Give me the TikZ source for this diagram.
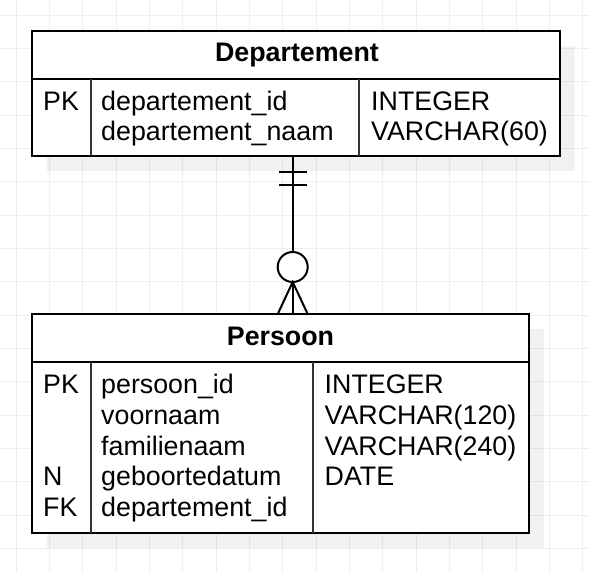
\documentclass[tikz,border=0pt]{standalone}
\usepackage{fontspec}
\setmainfont{Liberation Sans}
\usetikzlibrary{calc}
\begin{document}
\begin{tikzpicture}[x=1pt,y=-1pt,
		gridline/.style={gray!13,line width=0.8pt},
		entity/.style={draw,line width=2pt,fill=white,inner sep=0pt},
		shade/.style={fill=black,opacity=0.055},
		divider/.style={black!80,line width=1.6pt},
		title/.style={anchor=base,inner sep=0pt,font=\fontsize{26.8}{30}\selectfont\bfseries},
		field/.style={anchor=base west,inner sep=0pt,font=\fontsize{26.8}{30}\selectfont},
		rel/.style={line width=2pt}]
			\useasboundingbox (0,0) rectangle (589,572);
			\fill[white] (0,0) rectangle (589,572);
			% grid
			\foreach \x in {0,...,17}
				\draw[gridline] ({16+33.33*\x},0) -- ++(0,572);
			\foreach \y in {0,...,16}
				\draw[gridline] (0,{15+33.33*\y}) -- ++(589,0);
			% shadows
			\fill[shade] (47,46) rectangle (575,171);
			\fill[shade] (47,329) rectangle (544,548);
			% Departement
			\node[entity,minimum width=528pt,minimum height=125pt] (dep) at (296,93.5) {};
			\draw[line width=2pt] (32,79) -- (560,79);
			\draw[divider] (91,79) -- (91,156);
			\draw[divider] (359,79) -- (359,156);
			\node[title] (deptitle) at (297,62) {Departement};
			\node[field] (depkey) at (43,110.5) {PK};
			\foreach \txt [count=\i] in {departement\_id,departement\_naam}
				\node[field] (depfield\i) at ({101},{110.5+30*(\i-1)}) {\txt};
			\foreach \txt [count=\i] in {INTEGER,VARCHAR(60)}
				\node[field] (deptype\i) at ({371},{110.5+30*(\i-1)}) {\txt};
			% Persoon
			\node[entity,minimum width=497pt,minimum height=219pt] (pers) at (280.5,423.5) {};
			\draw[line width=2pt] (32,362) -- (529,362);
			\draw[divider] (91,362) -- (91,533);
			\draw[divider] (313,362) -- (313,533);
			\node[title] (perstitle) at (280.5,345) {Persoon};
			\foreach \txt [count=\i] in {PK,,,N,FK}
				\node[field] (perskey\i) at ({43},{393.5+30.8*(\i-1)}) {\txt};
			\foreach \txt [count=\i] in {persoon\_id,voornaam,familienaam,geboortedatum,departement\_id}
				\node[field] (persfield\i) at ({101},{393.5+30.8*(\i-1)}) {\txt};
			\foreach \txt [count=\i] in {INTEGER,VARCHAR(120),VARCHAR(240),DATE}
				\node[field] (perstype\i) at ({324.5},{393.5+30.8*(\i-1)}) {\txt};
			% relation: one and only one -- zero or many
			\coordinate (relx) at (292.7,0);
			\draw[rel] (dep.south -| relx) -- ($(dep.south -| relx)+(0,97)$);
			\draw[rel] ($(dep.south -| relx)+(-14,15)$) -- ++(28,0);
			\draw[rel] ($(dep.south -| relx)+(-14,28.5)$) -- ++(28,0);
			\draw[rel,fill=white] ($(pers.north -| relx)+(0,-46)$) circle[radius=15pt];
			\draw[rel] ($(pers.north -| relx)+(0,-31)$) -- (pers.north -| relx);
			\draw[rel] ($(pers.north -| relx)+(-14.5,0)$) -- ($(pers.north -| relx)+(0,-31)$) -- ($(pers.north -| relx)+(14.5,0)$);
		\end{tikzpicture}
\end{document}
